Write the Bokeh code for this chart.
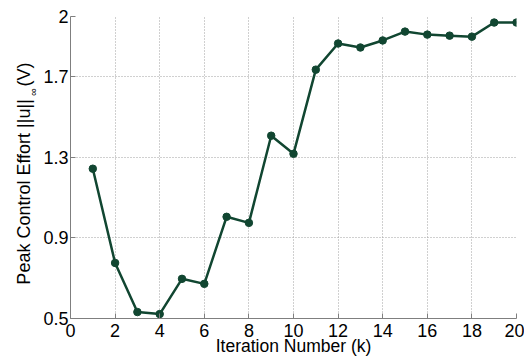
import math
from bokeh.plotting import figure
from bokeh.layouts import row
from bokeh.models import FixedTicker, Range1d, Label
from bokeh.embed import file_html
from bokeh.resources import INLINE

iterations = list(range(1, 21))
peak_effort = [1.244, 0.776, 0.532, 0.522, 0.697, 0.672, 1.005, 0.975, 1.408, 1.318,
               1.736, 1.866, 1.846, 1.881, 1.925, 1.910, 1.905, 1.900, 1.970, 1.970]
x_ticks = [0, 2, 4, 6, 8, 10, 12, 14, 16, 18, 20]
y_ticks = [0.5, 0.9, 1.3, 1.7, 2.0]
y_tick_labels = {0.5: "0.5", 0.9: "0.9", 1.3: "1.3", 1.7: "1.7", 2.0: "2"}
x_title = "Iteration Number (k)"
y_title_main = "Peak Control Effort ||u||"
y_title_sub = "\u221e"
y_title_unit = "(V)"

FONT = "Liberation Sans"
COLOR = "#114631"
TITLE_W = 40

# narrow strip on the left that carries the y-axis title (with subscript)
t = figure(width=TITLE_W, height=358, output_backend="svg", toolbar_location=None,
           x_range=Range1d(0, TITLE_W), y_range=Range1d(0, 358),
           x_axis_type=None, y_axis_type=None)
t.min_border_left = t.min_border_right = t.min_border_top = t.min_border_bottom = 0
t.outline_line_color = None
t.xgrid.visible = False
t.ygrid.visible = False
common = dict(angle=math.pi / 2, text_font=FONT, text_color="black",
              text_baseline="alphabetic")
t.add_layout(Label(x=23, y=358 - 98, text=y_title_main, text_align="right",
                   text_font_size="18px", **common))
t.add_layout(Label(x=32, y=358 - 94, text=y_title_sub, text_align="left",
                   text_font_size="11px", **common))
t.add_layout(Label(x=23, y=358 - 83, text=y_title_unit, text_align="left",
                   text_font_size="18px", **common))

p = figure(width=524 - TITLE_W, height=358, output_backend="svg", toolbar_location=None,
           x_range=Range1d(0, 20), y_range=Range1d(0.5, 2.0))
p.min_border_left = 29
p.min_border_right = 8
p.min_border_top = 16
p.min_border_bottom = 0
p.outline_line_color = None
p.background_fill_color = "white"
p.border_fill_color = "white"

p.line(iterations, peak_effort, line_color=COLOR, line_width=2.5)
p.scatter(iterations, peak_effort, size=7.5, fill_color=COLOR, line_color=COLOR)

p.xaxis.ticker = FixedTicker(ticks=x_ticks)
p.yaxis.ticker = FixedTicker(ticks=y_ticks)
p.yaxis.major_label_overrides = y_tick_labels

for ax in (p.xaxis[0], p.yaxis[0]):
    ax.axis_line_color = "#7f7f7f"
    ax.major_tick_line_color = "#7f7f7f"
    ax.major_tick_in = 5
    ax.major_tick_out = 0
    ax.minor_tick_line_color = None
    ax.major_label_text_font = FONT
    ax.major_label_text_font_size = "18px"
    ax.major_label_text_color = "black"
    ax.axis_label_text_font = FONT
    ax.axis_label_text_font_size = "17.5px"
    ax.axis_label_text_font_style = "normal"
    ax.axis_label_text_color = "black"

p.xaxis.axis_label = x_title
p.xaxis.axis_label_standoff = -4
p.xaxis.major_label_standoff = 5
p.yaxis.major_label_standoff = 2

for g in (p.xgrid[0], p.ygrid[0]):
    g.grid_line_color = "#a0a0a0"
    g.grid_line_dash = "1 2"
    g.grid_line_width = 1

layout = row(t, p, spacing=0)
open("out.html", "w").write(file_html(layout, INLINE))
